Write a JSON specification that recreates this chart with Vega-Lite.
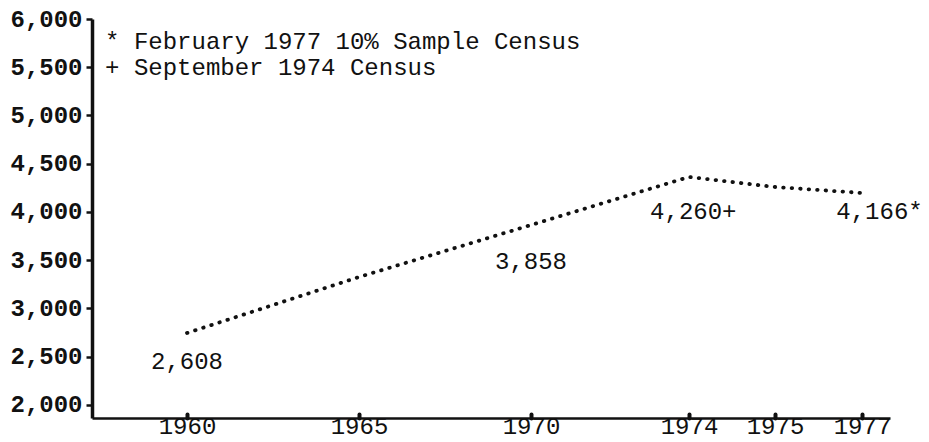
{
  "$schema": "https://vega.github.io/schema/vega-lite/v6.json",
  "width": 798,
  "height": 399,
  "autosize": {"type": "none"},
  "padding": {"left": 92, "top": 19, "right": 39, "bottom": 24},
  "background": "white",
  "config": {
    "view": {"stroke": null},
    "font": "Liberation Mono",
    "text": {"font": "Liberation Mono", "fontSize": 24, "color": "#111", "fontWeight": "normal"}
  },
  "datasets": {
    "series": [
      {"year": 1960, "value": 2746},
      {"year": 1965, "value": 3326},
      {"year": 1970, "value": 3865},
      {"year": 1974, "value": 4363},
      {"year": 1975, "value": 4259},
      {"year": 1977, "value": 4197}
    ],
    "notes": [
      {"year": 1960, "value": 2446, "label": "2,608"},
      {"year": 1970, "value": 3482, "label": "3,858"},
      {"year": 1974.05, "value": 4000, "label": "4,260+"},
      {"year": 1977.4, "value": 4000, "label": "4,166*"}
    ],
    "legend": [
      {"year": 1957.62, "value": 5762, "label": "* February 1977 10% Sample Census"},
      {"year": 1957.62, "value": 5492, "label": "+ September 1974 Census"}
    ]
  },
  "encoding": {
    "x": {
      "field": "year",
      "type": "quantitative",
      "scale": {"domain": [1957.24, 1960, 1970, 1974, 1975, 1977, 1977.64], "range": [0, 95, 439, 597, 683, 770, 798], "nice": false, "zero": false},
      "axis": {
        "title": null,
        "values": [1960, 1965, 1970, 1974, 1975, 1977],
        "format": "d",
        "grid": false,
        "domainColor": "#111",
        "domainWidth": 2.5,
        "tickColor": "#111",
        "tickSize": -4,
        "tickWidth": 4,
        "tickCap": "round",
        "labelFont": "Liberation Mono",
        "labelFontSize": 24,
        "labelFontWeight": "normal",
        "labelColor": "#111",
        "labelPadding": 0,
        "labelBaseline": "top",
        "labelFlush": false,
        "labelOverlap": false
      }
    },
    "y": {
      "field": "value",
      "type": "quantitative",
      "scale": {"domain": [1865, 6000], "nice": false, "zero": false},
      "axis": {
        "title": null,
        "values": [2000, 2500, 3000, 3500, 4000, 4500, 5000, 5500, 6000],
        "format": ",d",
        "grid": false,
        "domainColor": "#111",
        "domainWidth": 3.5,
        "tickColor": "#111",
        "tickSize": 6,
        "tickWidth": 2.5,
        "labelFont": "Liberation Mono",
        "labelFontSize": 24,
        "labelFontWeight": "bold",
        "labelColor": "#111",
        "labelPadding": 4,
        "labelFlush": false,
        "labelOverlap": false
      }
    }
  },
  "layer": [
    {
      "data": {"name": "series"},
      "mark": {"type": "line", "color": "#111", "strokeWidth": 3.8, "strokeCap": "round", "strokeDash": [0.5, 8]}
    },
    {
      "data": {"name": "notes"},
      "mark": {"type": "text", "align": "center", "baseline": "middle"},
      "encoding": {"text": {"field": "label"}}
    },
    {
      "data": {"name": "legend"},
      "mark": {"type": "text", "align": "left", "baseline": "middle"},
      "encoding": {"text": {"field": "label"}}
    }
  ]
}
